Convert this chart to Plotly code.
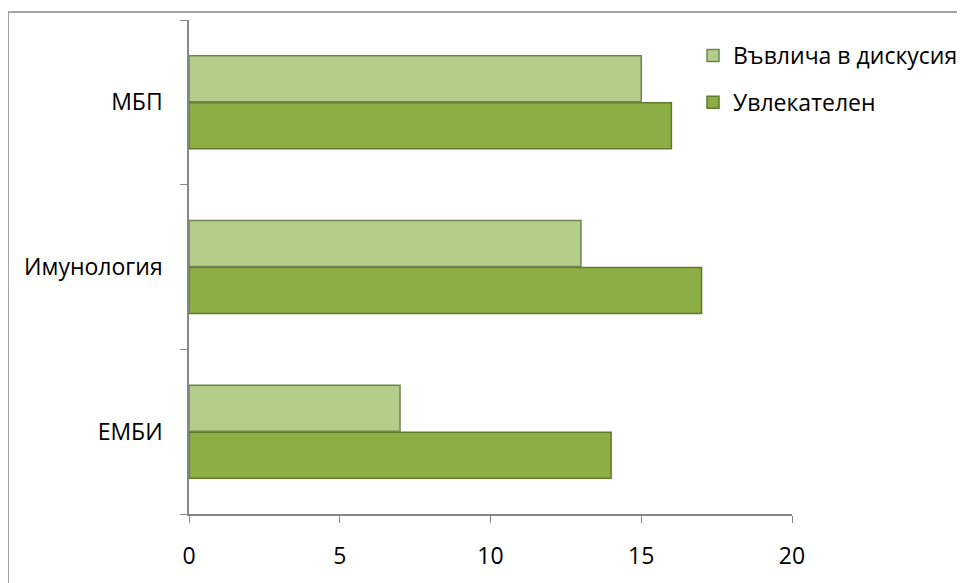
import plotly.graph_objects as go

categories = ["ЕМБИ", "Имунология", "МБП"]
series_names = ["Увлекателен", "Въвлича в дискусия"]
uvlekatelen = [14, 17, 16]
vavlicha = [7, 13, 15]
x_ticks = [0, 5, 10, 15, 20]

font = dict(family="Open Sans, Lato, sans-serif", size=23, color="#000000")
axis_col = "#868686"

W, H = 957, 575
L, T, PW, PH = 181, 12, 603, 494

fig = go.Figure()
fig.add_trace(go.Bar(
    y=categories, x=uvlekatelen, name=series_names[0], orientation="h",
    marker=dict(color="#8cae44", line=dict(color="#5f7a2c", width=1.5)),
    legendgroup="a", legendrank=2,
))
fig.add_trace(go.Bar(
    y=categories, x=vavlicha, name=series_names[1], orientation="h",
    marker=dict(color="#b4cd8b", line=dict(color="#6f8650", width=1.5)),
    legendgroup="b", legendrank=1,
))

fig.update_layout(
    width=W, height=H,
    margin=dict(l=L, r=W - L - PW, t=T, b=H - T - PH, autoexpand=False),
    paper_bgcolor="white", plot_bgcolor="white",
    barmode="group", bargap=0.43, bargroupgap=0.02,
    font=font,
    showlegend=True,
    legend=dict(x=(685 - L) / PW, y=(T + PH - 26) / PH, xanchor="left", yanchor="top",
                tracegroupgap=14, font=font, bgcolor="rgba(0,0,0,0)", itemwidth=30),
    xaxis=dict(range=[0, 20], tickvals=x_ticks, ticks="outside", ticklen=7,
               tickcolor=axis_col, showline=True, linecolor=axis_col, linewidth=1.5,
               showgrid=False, zeroline=False, ticklabelstandoff=14, fixedrange=True,
               automargin=False),
    yaxis=dict(categoryorder="array", categoryarray=categories, ticks="outside",
               tickson="boundaries", ticklen=7, tickcolor=axis_col, showline=True,
               linecolor=axis_col, linewidth=1.5, showgrid=False, zeroline=False,
               ticklabelstandoff=20, fixedrange=True, automargin=False),
    shapes=[dict(type="rect", xref="paper", yref="paper",
                 x0=(0 - L) / PW, x1=1.6, y0=-0.5, y1=(T + PH - 4) / PH,
                 line=dict(color=axis_col, width=1.5), fillcolor="rgba(0,0,0,0)", layer="below")],
)

fig.write_html("out.html")
